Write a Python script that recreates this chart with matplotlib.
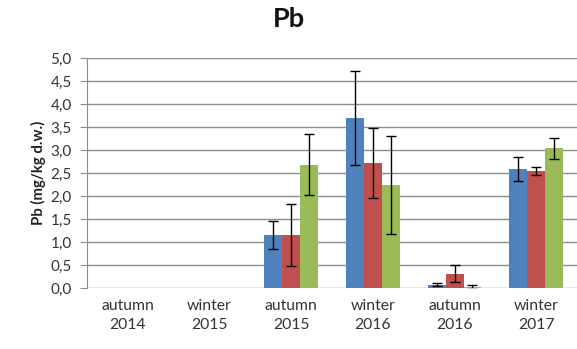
import matplotlib.pyplot as plt
import numpy as np

## seasons and Pb content (mg/kg d.w.) for the three sites
seasons = ["autumn\n2014", "winter\n2015", "autumn\n2015", "winter\n2016", "autumn\n2016", "winter\n2017"]
site1 = [0.0, 0.0, 1.15, 3.69, 0.07, 2.59]
site2 = [0.0, 0.0, 1.15, 2.71, 0.31, 2.54]
site3 = [0.0, 0.0, 2.68, 2.24, 0.02, 3.04]
err1 = [0.0, 0.0, 0.31, 1.02, 0.03, 0.26]
err2 = [0.0, 0.0, 0.68, 0.76, 0.18, 0.09]
err3 = [0.0, 0.0, 0.66, 1.07, 0.04, 0.23]

colors = ["#4F81BD", "#C0504D", "#9BBB59"]

plt.rcParams['font.family'] = ['Lato', 'DejaVu Sans']

fig = plt.figure(figsize=[5.77, 3.49], dpi=100)
ax = fig.add_axes([0.151, 0.175, 0.849, 0.659])

x = np.arange(len(seasons))
w = 0.22
for i, (vals, errs) in enumerate([(site1, err1), (site2, err2), (site3, err3)]):
    xs = x + (i - 1) * w
    ax.bar(xs, vals, width=w, color=colors[i], zorder=3)
    # skip error bars for empty seasons
    m = np.array(vals) > 0
    ax.errorbar(xs[m], np.array(vals)[m], yerr=np.array(errs)[m], fmt="none",
                ecolor="black", elinewidth=1, capsize=3.5, capthick=1, zorder=4)

ax.set_xlim(-0.5, len(seasons) - 0.5)
ax.set_ylim(0, 5)
ax.set_yticks(np.arange(0, 5.01, 0.5))
ax.set_yticklabels([f"{v:.1f}".replace(".", ",") for v in np.arange(0, 5.01, 0.5)])
ax.set_xticks(x)
ax.set_xticklabels(seasons, linespacing=1.45)
ax.grid(axis="y", color="#8c8c8c", linewidth=1, zorder=0)

for s in ["top", "right", "bottom"]:
    ax.spines[s].set_visible(False)
ax.spines["left"].set_color("#8c8c8c")
ax.tick_params(axis="y", colors="#8c8c8c", labelcolor="#333333", length=5, pad=6, labelsize=11)
ax.tick_params(axis="x", length=0, labelsize=11.3, labelcolor="#333333", pad=8)

ax.set_ylabel("Pb (mg/kg d.w.)", fontsize=10.8, fontweight="bold", color="#222222", labelpad=3)
fig.text(0.5, 0.945, "Pb", ha="center", va="center", fontsize=19.5, fontweight="bold", color="#111111")

fig.savefig("out.png", dpi=100)
